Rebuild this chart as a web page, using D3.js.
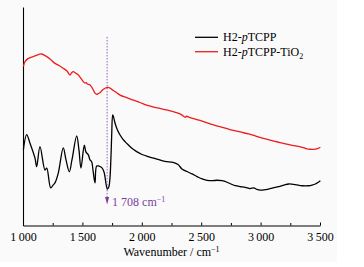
<!DOCTYPE html>
<html>
<head>
<meta charset="utf-8">
<script src="https://cdn.jsdelivr.net/npm/d3@7"></script>
<style>
  body { margin: 0; background: #fff; }
  svg { display: block; }
  text { font-family: "Liberation Serif", "Times New Roman", serif; }
</style>
</head>
<body>
<div id="chart"></div>
<script>
// FTIR spectra, wavenumber (cm-1) vs transmittance (a.u.)
const seriesNames = ["H2-pTCPP", "H2-pTCPP-TiO2"];
const seriesColors = ["#000000", "#ee1c1c"];

const pTCPP = [
    [1003, 34.6], [1031, 41.6], [1059, 37.6], [1101, 30.8], [1115, 26.9], [1143, 36.1],
    [1185, 25.4], [1200, 26.3], [1233, 17.2], [1253, 18.5], [1269, 19.5], [1297, 24.0],
    [1339, 35.5], [1362, 30.0], [1390, 24.6], [1412, 30.0], [1452, 41.0], [1471, 34.6],
    [1488, 26.3], [1516, 36.8], [1530, 33.6], [1550, 32.3], [1564, 30.0], [1578, 29.2],
    [1589, 25.4], [1606, 19.5], [1620, 27.2], [1640, 27.2], [1663, 26.5], [1682, 24.5],
    [1699, 19.0], [1710, 16.7], [1722, 17.6], [1732, 21.7], [1741, 32.3], [1747, 42.2],
    [1755, 50.6], [1762, 49.7], [1775, 46.8], [1795, 43.7], [1817, 41.4], [1842, 39.4],
    [1873, 37.6], [1909, 35.7], [1957, 33.8], [2002, 32.5], [2055, 31.5], [2126, 30.4],
    [2195, 29.3], [2263, 28.9], [2305, 27.9], [2338, 25.9], [2380, 24.7], [2423, 23.6],
    [2465, 22.4], [2507, 21.3], [2549, 20.7], [2591, 20.5], [2633, 20.7], [2675, 20.5],
    [2718, 19.8], [2751, 19.0], [2787, 18.2], [2827, 17.8], [2871, 17.5], [2911, 16.9],
    [2942, 17.2], [2970, 16.5], [2998, 16.2], [3029, 16.3], [3068, 16.7], [3105, 17.2],
    [3153, 17.8], [3197, 18.5], [3237, 19.0], [3292, 18.7], [3349, 18.2], [3405, 18.2],
    [3433, 18.5], [3461, 19.0], [3483, 19.7], [3503, 20.5]
];

const pTCPPTiO2 = [
    [1003, 72.7], [1017, 75.0], [1045, 76.5], [1101, 77.6], [1157, 78.5], [1177, 78.0],
    [1200, 77.3], [1227, 76.2], [1269, 74.2], [1303, 73.2], [1339, 71.9], [1370, 70.7],
    [1396, 68.9], [1408, 69.8], [1423, 70.4], [1442, 69.8], [1466, 68.9], [1488, 67.3],
    [1508, 65.8], [1522, 65.2], [1533, 65.4], [1541, 64.8], [1564, 64.3], [1577, 63.4],
    [1592, 62.0], [1606, 60.6], [1620, 60.0], [1634, 60.4], [1648, 60.8], [1669, 62.0],
    [1690, 62.8], [1718, 63.2], [1732, 62.9], [1747, 62.3], [1775, 61.3], [1817, 59.7],
    [1873, 58.5], [1929, 57.4], [1985, 56.3], [2041, 55.1], [2094, 54.3], [2153, 53.6],
    [2210, 52.9], [2265, 52.1], [2305, 51.4], [2336, 50.6], [2366, 49.5], [2376, 50.0],
    [2406, 49.4], [2490, 48.1], [2574, 46.5], [2658, 45.2], [2742, 43.9], [2827, 42.8],
    [2900, 41.9], [2942, 41.2], [2995, 40.3], [3079, 39.1], [3153, 38.1], [3248, 36.9],
    [3349, 35.8], [3382, 35.2], [3419, 34.9], [3461, 35.0], [3483, 35.3], [3503, 35.8]
];

const xTicks = [1000, 1500, 2000, 2500, 3000, 3500];
const xMinorTicks = [1250, 1750, 2250, 2750, 3250];
const peakWavenumber = 1708;
const peakLabel = "1 708 cm";

const width = 364, height = 267;
const margin = { top: 7, right: 44, bottom: 41.5, left: 23 };
const fontSize = "12px";
const supSize = "8px";

const svg = d3.select("#chart").append("svg")
    .attr("width", width)
    .attr("height", height);

svg.append("rect")
    .attr("width", 337)
    .attr("height", 262)
    .attr("fill", "#fafafa");

const x = d3.scaleLinear()
    .domain([1000, 3500])
    .range([margin.left, width - margin.right]);

const y = d3.scaleLinear()
    .domain([0, 100])
    .range([height - margin.bottom, margin.top]);

const fmt = d => d3.format(",")(d).replace(",", "\u2009");

// x axis (ticks inside)
const xAxis = svg.append("g")
    .attr("transform", `translate(0,${y(0)})`)
    .call(d3.axisBottom(x)
        .tickValues(xTicks)
        .tickSizeInner(-3)
        .tickSizeOuter(0)
        .tickPadding(7)
        .tickFormat(fmt));

svg.append("g")
    .attr("transform", `translate(0,${y(0)})`)
    .call(d3.axisBottom(x)
        .tickValues(xMinorTicks)
        .tickSizeInner(-2.5)
        .tickSizeOuter(0)
        .tickFormat(""))
    .select(".domain").remove();

xAxis.selectAll("text")
    .attr("fill", "#000")
    .style("font-size", fontSize);

// y axis: bare line
svg.append("g")
    .attr("transform", `translate(${x(1000)},0)`)
    .call(d3.axisLeft(y).tickValues([]).tickSizeOuter(0));

svg.selectAll(".domain").attr("stroke", "#000").attr("stroke-width", 1.1);
svg.selectAll(".tick line").attr("stroke", "#000");

// axis title
const xTitle = svg.append("text")
    .attr("x", (x(1000) + x(3500)) / 2)
    .attr("y", 256)
    .attr("text-anchor", "middle")
    .style("font-size", fontSize)
    .attr("fill", "#000");
xTitle.append("tspan").text("Wavenumber / cm");
xTitle.append("tspan").attr("dy", -4.5).style("font-size", supSize).text("\u22121");

// spectra
const line = d3.line()
    .x(d => x(d[0]))
    .y(d => y(d[1]))
    .curve(d3.curveCatmullRom.alpha(0.5));

[pTCPP, pTCPPTiO2].forEach((data, i) => {
    svg.append("path")
        .datum(data)
        .attr("fill", "none")
        .attr("stroke", seriesColors[i])
        .attr("stroke-width", 1.3)
        .attr("stroke-linejoin", "round")
        .attr("d", line);
});

// peak marker
const purple = "#7a3d9e";
svg.append("line")
    .attr("x1", x(peakWavenumber)).attr("x2", x(peakWavenumber))
    .attr("y1", y(86.3)).attr("y2", y(13))
    .attr("stroke", purple)
    .attr("stroke-width", 0.8)
    .attr("stroke-dasharray", "1.5,1.5");

svg.append("path")
    .attr("d", `M${x(peakWavenumber) - 2},${y(13)} L${x(peakWavenumber) + 2},${y(13)} L${x(peakWavenumber)},${y(9.6)} Z`)
    .attr("fill", purple);

const peakText = svg.append("text")
    .attr("x", x(peakWavenumber) + 5)
    .attr("y", y(9.6) + 1.5)
    .attr("fill", purple)
    .style("font-size", fontSize);
peakText.append("tspan").text(peakLabel);
peakText.append("tspan").attr("dy", -4.5).style("font-size", supSize).text("\u22121");

// legend
const legend = svg.append("g");
seriesNames.forEach((name, i) => {
    const ly = 37.3 + i * 14.4;
    legend.append("line")
        .attr("x1", 195).attr("x2", 218)
        .attr("y1", ly).attr("y2", ly)
        .attr("stroke", seriesColors[i])
        .attr("stroke-width", 1.3);
    const t = legend.append("text")
        .attr("x", 223)
        .attr("y", ly + 4)
        .attr("fill", "#000")
        .style("font-size", fontSize);
    t.append("tspan").text("H2-");
    t.append("tspan").style("font-style", "italic").text("p");
    t.append("tspan").text(i === 0 ? "TCPP" : "TCPP-TiO");
    if (i === 1) {
        t.append("tspan").attr("dy", 3).style("font-size", supSize).text("2");
    }
});
</script>
</body>
</html>
